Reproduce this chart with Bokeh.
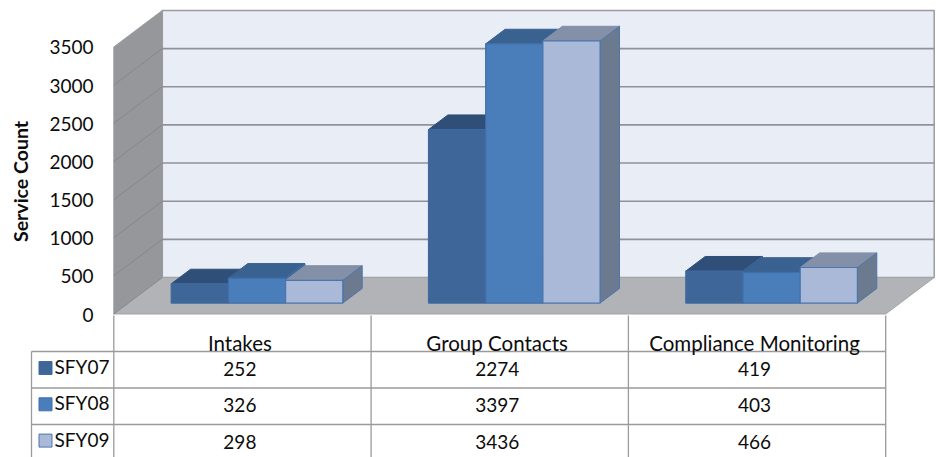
from bokeh.plotting import figure
from bokeh.models import Range1d
from bokeh.core.properties import value
from bokeh.embed import file_html
from bokeh.resources import INLINE

categories = ["Intakes", "Group Contacts", "Compliance Monitoring"]
series_names = ["SFY07", "SFY08", "SFY09"]
sfy07 = [252, 2274, 419]
sfy08 = [326, 3397, 403]
sfy09 = [298, 3436, 466]
y_ticks = [0, 500, 1000, 1500, 2000, 2500, 3000, 3500]

FONT = value("Lato")
INK = "#0c0c0c"
CAT_W = 257.3      # px per category
VAL_PX = 0.0763    # px per unit of value
X0, Y0 = 113.3, 313.5  # picture pixel of x=0, value=0
DX = 48.5 / CAT_W  # depth of the 3D box in data units
DY = 36.5 / VAL_PX
BAR_W = 57.2 / CAT_W
D_FRONT, D_BACK = 0.3, 0.7

def yv(py):
    return (Y0 - py) / VAL_PX

def xv(px):
    return (px - X0) / CAT_W

def proj(x, v, d):
    return (x + d * DX, v + d * DY)

def quad(pts):
    return [p[0] for p in pts], [p[1] for p in pts]

p = figure(width=936, height=457, output_backend="svg", toolbar_location=None,
           x_range=Range1d(xv(0), xv(936)), y_range=Range1d(yv(457), yv(0)),
           min_border=0, outline_line_color=None, border_fill_color="white",
           background_fill_color="white")
p.xaxis.visible = False
p.yaxis.visible = False
p.grid.visible = False

TOP = 3500 + 0
EDGE = "#9b9c9f"
# back wall, left wall, floor
bx, by = quad([proj(0, 0, 1), proj(3, 0, 1), proj(3, TOP, 1), proj(0, TOP, 1)])
p.patch(bx, by, fill_color="#e9edf6", line_color=EDGE, line_width=1.5)
lx, ly = quad([proj(0, 0, 0), proj(0, 0, 1), proj(0, TOP, 1), proj(0, TOP, 0)])
p.patch(lx, ly, fill_color="#95979b", line_color=EDGE, line_width=1)
fx, fy = quad([proj(0, 0, 0), proj(3, 0, 0), proj(3, 0, 1), proj(0, 0, 1)])
p.patch(fx, fy, fill_color="#b1b3b6", line_color="#a3a5a8", line_width=1)

# gridlines
gt = y_ticks[1:-1]
p.segment([proj(0, t, 1)[0] for t in gt], [proj(0, t, 1)[1] for t in gt],
          [proj(3, t, 1)[0] for t in gt], [proj(3, t, 1)[1] for t in gt],
          line_color="#8f9296", line_width=1.6)
p.segment([proj(0, t, 0)[0] for t in gt + [0]], [proj(0, t, 0)[1] for t in gt + [0]],
          [proj(0, t, 1)[0] for t in gt + [0]], [proj(0, t, 1)[1] for t in gt + [0]],
          line_color="#85878b", line_width=1)

# bars
fronts = ["#3f6699", "#4a7ebb", "#a9b9d7"]
tops = ["#2f4f78", "#3a6291", "#8490a8"]
sides = ["#32527c", "#3b6596", "#6c7a90"]
edges = ["#3f6a9e", "#3f6fa8", "#4a76ad"]
series = [sfy07, sfy08, sfy09]
for c in range(len(categories)):
    start = c + (1 - 3 * BAR_W) / 2
    for s, vals in enumerate(series):
        x0, x1, v = start + s * BAR_W, start + (s + 1) * BAR_W, vals[c]
        tx, ty = quad([proj(x0, v, D_FRONT), proj(x1, v, D_FRONT), proj(x1, v, D_BACK), proj(x0, v, D_BACK)])
        p.patch(tx, ty, fill_color=tops[s], line_color=tops[s], line_width=1)
        sx, sy = quad([proj(x1, 0, D_FRONT), proj(x1, 0, D_BACK), proj(x1, v, D_BACK), proj(x1, v, D_FRONT)])
        p.patch(sx, sy, fill_color=sides[s], line_color=edges[s], line_width=1)
        qx, qy = quad([proj(x0, 0, D_FRONT), proj(x1, 0, D_FRONT), proj(x1, v, D_FRONT), proj(x0, v, D_FRONT)])
        p.patch(qx, qy, fill_color=fronts[s], line_color=edges[s], line_width=1.2)

# y tick labels, y title
p.text([xv(93)] * len(y_ticks), [t + yv(314) for t in y_ticks], text=[str(t) for t in y_ticks],
       text_font=FONT, text_font_size="19px", text_color=INK, text_align="right", text_baseline="middle")
p.text([xv(20)], [yv(181)], text=["Service Count"], angle=[1.5708], text_font=FONT, text_font_style="bold",
       text_font_size="19.5px", text_color=INK, text_align="center", text_baseline="middle")

# data table
ROWS = [yv(351), yv(387.5), yv(424)]
GRID = "#9a9a9a"
cols = [0, 1, 2, 3]
p.segment(cols, [yv(315)] * 4, cols, [yv(460)] * 4, line_color=GRID, line_width=1.3)
p.segment([xv(31)], [ROWS[0]], [xv(31)], [yv(460)], line_color=GRID, line_width=1.3)
p.segment([xv(31)] * 3, ROWS, [3] * 3, ROWS, line_color=GRID, line_width=1.3)

centers = [i + 0.49 for i in range(3)]
p.text(centers, [yv(342)] * 3, text=categories, text_font=FONT, text_font_size="20.5px", text_color=INK,
       text_align="center", text_baseline="middle")
row_y = [yv(368.5), yv(404.5), yv(441)]
for r, vals in enumerate(series):
    p.text(centers, [row_y[r]] * 3, text=[str(v) for v in vals], text_font=FONT, text_font_size="19px",
           text_color=INK, text_align="center", text_baseline="middle")
    key = [yv(361 + 36.3 * r), yv(374 + 36.3 * r)]
    p.quad(left=[xv(38.5)], right=[xv(51.5)], top=[key[0]], bottom=[key[1]],
           fill_color=fronts[r], line_color=edges[r], line_width=1)
    p.text([xv(54)], [yv(366 + 36.3 * r)], text=[series_names[r]], text_font=FONT, text_font_size="19px",
           text_color=INK, text_align="left", text_baseline="middle")

open("out.html", "w").write(file_html(p, INLINE))
